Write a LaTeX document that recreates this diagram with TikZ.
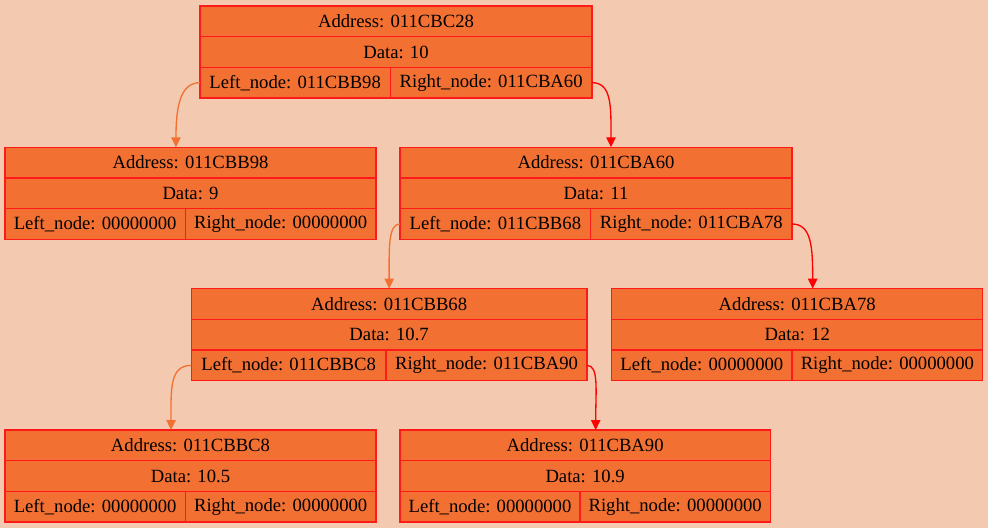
\documentclass[tikz,border=0pt]{standalone}
\usepackage{fontspec}
\setmainfont{Liberation Serif}
\usetikzlibrary{arrows.meta}
\definecolor{bg}{HTML}{F3CAB0}
\definecolor{nodefill}{HTML}{F37033}
\definecolor{edgeLc}{HTML}{F37033}
\definecolor{edgeRc}{HTML}{FF0000}
\definecolor{bordc}{HTML}{FF1A1A}
\tikzset{
  cell/.style={draw=bordc, fill=nodefill, line width=1pt, inner sep=0pt, outer sep=0pt,
    anchor=north west, minimum height=23pt, font=\fontsize{14pt}{16pt}\selectfont, text=black},
  lft/.style={draw=edgeLc, line width=1pt, -{Triangle[length=7.5pt,width=7pt]}},
  rgt/.style={draw=edgeRc, line width=1pt, -{Triangle[length=7.5pt,width=7pt]}}
}
\newcommand\rec[9]{%
  \node[cell, minimum width={(#3-#2)*0.75pt}] (#1-a) at (#2,#5) {Address: #6};
  \node[cell, minimum width={(#3-#2)*0.75pt}] (#1-d) at (#2,#5+30.667) {Data: #7};
  \node[cell, minimum width={(#4-#2)*0.75pt}] (#1-l) at (#2,#5+61.333) {Left\_node: #8};
  \node[cell, minimum width={(#3-#4)*0.75pt}] (#1-r) at (#4,#5+61.333) {Right\_node: #9};
}
\begin{document}
\begin{tikzpicture}[x=0.75pt, y=-0.75pt]
\fill[bg] (0,0) rectangle (988,528);
\useasboundingbox (0,0) rectangle (988,528);
\rec{c28}{200}{592}{390.3}{6}{011CBC28}{10}{011CBB98}{011CBA60}
\rec{b98}{5}{376}{185.3}{147.3}{011CBB98}{9}{00000000}{00000000}
\rec{a60}{400}{792}{590.7}{147.3}{011CBA60}{11}{011CBB68}{011CBA78}
\rec{b68}{191.3}{587}{386}{288.7}{011CBB68}{10.7}{011CBBC8}{011CBA90}
\rec{a78}{611.7}{982.7}{792}{288.7}{011CBA78}{12}{00000000}{00000000}
\rec{bc8}{5}{376}{185.3}{430}{011CBBC8}{10.5}{00000000}{00000000}
\rec{a90}{400}{770.3}{580}{430}{011CBA90}{10.9}{00000000}{00000000}
\draw[lft] (c28-l.west) .. controls +(-20,0) and +(0,-40) .. ([xshift=-10.9pt]b98-a.north);
\draw[rgt] (c28-r.east) .. controls +(20,0) and +(0,-40) .. ([xshift=11.25pt]a60-a.north);
\draw[lft] (a60-l.west) .. controls +(-12,0) and +(0,-40) .. (b68-a.north);
\draw[rgt] (a60-r.east) .. controls +(20,0) and +(0,-40) .. ([xshift=11.6pt]a78-a.north);
\draw[lft] (b68-l.west) .. controls +(-22,0) and +(0,-40) .. ([xshift=-14.6pt]bc8-a.north);
\draw[rgt] (b68-r.east) .. controls +(12,0) and +(0,-40) .. ([xshift=7.9pt]a90-a.north);
\end{tikzpicture}
\end{document}
